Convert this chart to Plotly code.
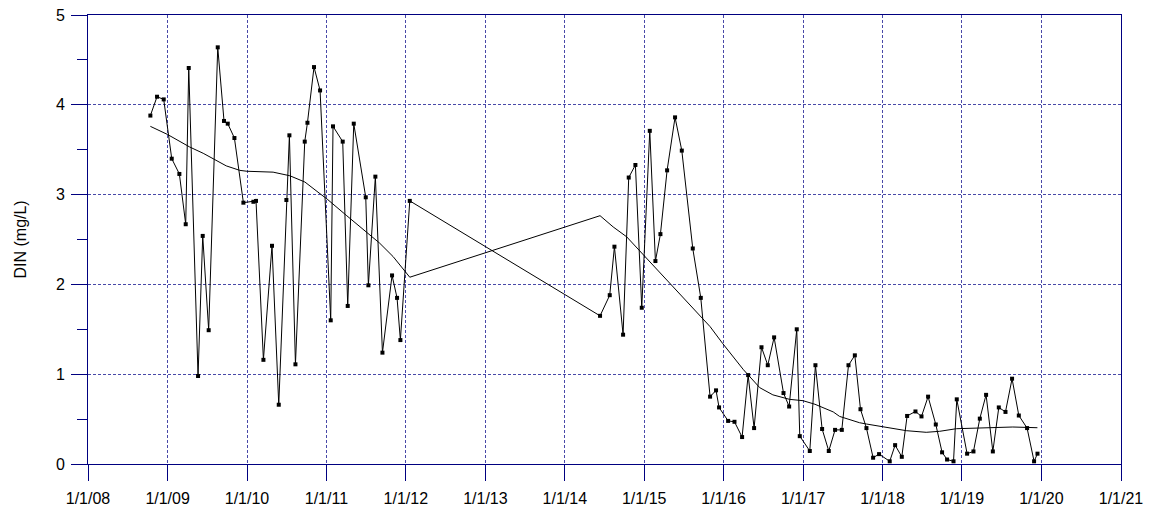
import plotly.graph_objects as go
from datetime import datetime, timedelta

# Sample dates as decimal years since 1/1/2008, DIN values (mg/L)
sample_years = [
    0.785, 0.869, 0.953, 1.054, 1.150, 1.230, 1.268, 1.385, 1.444, 1.519,
    1.633, 1.712, 1.759, 1.843, 1.956, 2.082, 2.115, 2.208, 2.316, 2.401,
    2.497, 2.535, 2.611, 2.728, 2.762, 2.845, 2.921, 3.055, 3.084, 3.206,
    3.269, 3.345, 3.496, 3.529, 3.617, 3.706, 3.827, 3.890, 3.932, 4.050,
    6.445, 6.567, 6.626, 6.735, 6.806, 6.890, 6.970, 7.071, 7.142, 7.205,
    7.289, 7.389, 7.474, 7.612, 7.713, 7.830, 7.905, 7.943, 8.057, 8.137,
    8.233, 8.309, 8.384, 8.477, 8.556, 8.636, 8.754, 8.825, 8.921, 8.959,
    9.085, 9.156, 9.240, 9.324, 9.403, 9.488, 9.572, 9.652, 9.723, 9.798,
    9.882, 9.957, 10.091, 10.159, 10.243, 10.310, 10.415, 10.491, 10.574, 10.671,
    10.750, 10.813, 10.894, 10.935, 11.065, 11.145, 11.225, 11.304, 11.389, 11.464,
    11.548, 11.631, 11.716, 11.820, 11.908, 11.951,
]
din_values = [
    3.88, 4.09, 4.06, 3.40, 3.23, 2.67, 4.41, 0.98, 2.54, 1.49,
    4.64, 3.82, 3.79, 3.63, 2.91, 2.92, 2.93, 1.16, 2.43, 0.66,
    2.94, 3.66, 1.11, 3.59, 3.80, 4.42, 4.16, 1.60, 3.76, 3.59,
    1.76, 3.79, 2.97, 1.99, 3.20, 1.24, 2.10, 1.85, 1.38, 2.93,
    1.65, 1.88, 2.42, 1.44, 3.19, 3.33, 1.74, 3.71, 2.26, 2.56,
    3.27, 3.86, 3.49, 2.40, 1.85, 0.75, 0.82, 0.63, 0.48, 0.47,
    0.30, 0.99, 0.40, 1.30, 1.10, 1.41, 0.79, 0.64, 1.50, 0.31,
    0.145, 1.10, 0.39, 0.145, 0.38, 0.38, 1.10, 1.21, 0.61, 0.40,
    0.07, 0.11, 0.03, 0.21, 0.08, 0.535, 0.585, 0.53, 0.75, 0.44,
    0.13, 0.05, 0.03, 0.72, 0.115, 0.14, 0.505, 0.77, 0.14, 0.63,
    0.58, 0.95, 0.54, 0.40, 0.03, 0.115,
]

# Smoothed trend line
smooth_years = [
    0.785, 1.0, 1.28, 1.45, 1.74, 1.91, 2.0, 2.33, 2.54, 2.73,
    2.92, 3.01, 3.25, 3.50, 3.67, 3.84, 3.97, 4.05, 6.445, 6.61,
    6.78, 6.99, 7.20, 7.41, 7.62, 7.83, 7.99, 8.25, 8.455, 8.62,
    8.83, 9.0, 9.15, 9.38, 9.46, 9.71, 9.80, 10.01, 10.30, 10.55,
    10.72, 10.93, 11.35, 11.64, 11.95,
]
smooth_values = [
    3.76, 3.67, 3.53, 3.46, 3.32, 3.27, 3.26, 3.25, 3.21, 3.14,
    3.01, 2.95, 2.77, 2.59, 2.46, 2.31, 2.16, 2.08, 2.765, 2.64,
    2.53, 2.33, 2.12, 1.92, 1.73, 1.53, 1.34, 1.05, 0.85, 0.77,
    0.72, 0.705, 0.665, 0.58, 0.53, 0.46, 0.445, 0.416, 0.371, 0.353,
    0.364, 0.393, 0.409, 0.412, 0.404,
]

BASE = datetime(2008, 1, 1)


def to_date(y):
    return BASE + timedelta(days=y * 365.25)


x_samples = [to_date(y) for y in sample_years]
x_smooth = [to_date(y) for y in smooth_years]

AX = "#000080"
GRID = "#4848a8"
FONT = "Liberation Sans, Arial, sans-serif"

fig = go.Figure()
fig.add_trace(go.Scatter(
    x=x_samples, y=din_values, mode="lines+markers",
    line=dict(color="black", width=1),
    marker=dict(symbol="square", size=4, color="black"),
    showlegend=False,
))
fig.add_trace(go.Scatter(
    x=x_smooth, y=smooth_values, mode="lines",
    line=dict(color="black", width=1),
    showlegend=False,
))

fig.update_layout(
    width=1151, height=510,
    margin=dict(l=88, r=30, t=15, b=46, autoexpand=False),
    paper_bgcolor="white", plot_bgcolor="white",
    font=dict(family=FONT, size=16, color="black"),
    annotations=[dict(
        text="DIN (mg/L)", textangle=-90, showarrow=False,
        xref="paper", yref="paper", x=-0.0658, y=0.5,
        xanchor="center", yanchor="middle",
        font=dict(size=16, family=FONT, color="black"),
    )],
)
fig.update_xaxes(
    type="date", automargin=False,
    range=[datetime(2008, 1, 1), datetime(2021, 1, 1)],
    tick0="2008-01-01", dtick="M12", tickformat="%-m/%-d/%y",
    ticks="outside", ticklen=16, tickwidth=1, tickcolor=AX,
    ticklabelstandoff=4,
    showline=True, linecolor=AX, linewidth=1, mirror=True,
    showgrid=True, gridcolor=GRID, gridwidth=1, griddash="3px,2px",
    zeroline=False,
    tickfont=dict(size=16, family=FONT, color="black"),
)
fig.update_yaxes(
    automargin=False,
    range=[0, 5], dtick=1, tick0=0,
    ticks="outside", ticklen=16, tickwidth=1, tickcolor=AX,
    ticklabelstandoff=3,
    minor=dict(dtick=0.5, ticks="outside", ticklen=10, tickcolor=AX, showgrid=False),
    showline=True, linecolor=AX, linewidth=1, mirror=True,
    showgrid=True, gridcolor=GRID, gridwidth=1, griddash="3px,2px",
    zeroline=False,
    tickfont=dict(size=16, family=FONT, color="black"),
)

# remove the default 8px page margin so the figure sits at the page origin
fig.write_html(
    "out.html",
    config={"displayModeBar": False},
    post_script="document.body.style.margin='0';",
)
